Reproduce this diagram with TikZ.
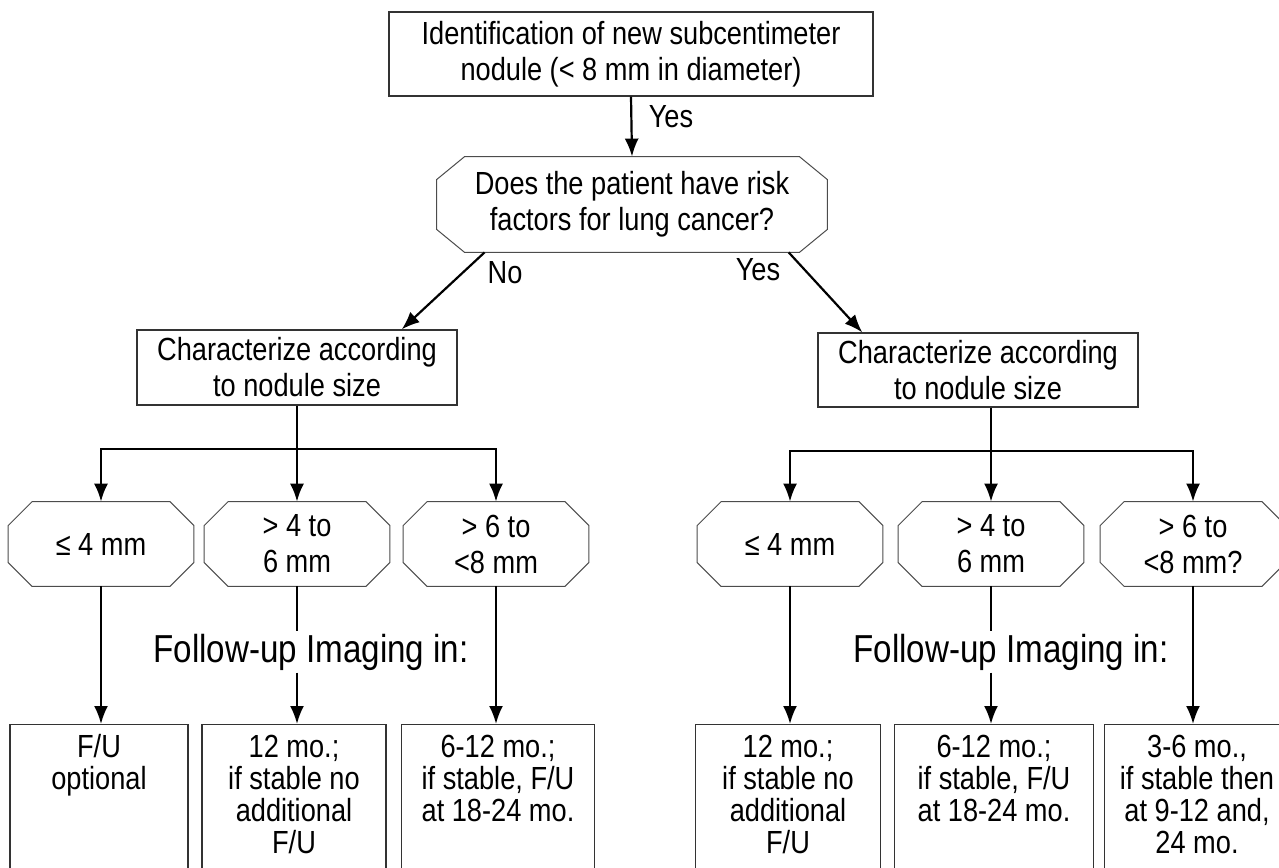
\documentclass[tikz,border=0pt]{standalone}
\usepackage{fontspec}
\setmainfont[FakeStretch=0.85]{Liberation Sans}
\usetikzlibrary{positioning}
\usetikzlibrary{calc,arrows.meta}

\begin{document}
\begin{tikzpicture}[x=0.5pt,y=-0.5pt,
  font=\fontsize{16}{18}\selectfont,
  qbox/.style={shape=rectangle,draw=black!80,line width=0.6pt,align=center,inner sep=0pt},
  qoct/.style={shape=rectangle,align=center,inner sep=0pt,minimum width=92.5pt,minimum height=42pt},
  octline/.style={draw=black!70,line width=0.5pt},
  fubox/.style={shape=rectangle,draw=black!80,line width=0.6pt,anchor=north,align=flush center,text width=#1,
    inner xsep=0pt,inner ysep=5pt,text height=11.5pt,text depth=150pt,font=\fontsize{16}{16}\selectfont},
  follow/.style={font=\fontsize{19.5}{22}\selectfont,inner sep=1pt},
  arr/.style={line width=1.1pt,-{Latex[length=9pt,width=7pt]}},
  lnk/.style={line width=1.1pt}]
\useasboundingbox (0,0) rectangle (1279,867);
\clip (0,0) rectangle (1279,867);

\path
(631,54) node [qbox,minimum width=242pt,minimum height=42pt] (ident) {Identification of new subcentimeter\\nodule (< 8 mm in diameter)}
(632,204.5) node [qoct,minimum width=195pt,minimum height=47.5pt] (risk) {Does the patient have risk\\factors for lung cancer?}
(297,367.5) node [qbox,minimum width=160pt,minimum height=37.5pt] (sizeL) {Characterize according\\to nodule size}
(978,370) node [qbox,minimum width=160pt,minimum height=37pt] (sizeR) {Characterize according\\to nodule size};
\node at (671,117) {Yes};
\node at (505,273) {No};
\node at (758,270) {Yes};

% size classes
\path
(101,544) node [qoct] (leA) {≤ 4 mm}
(297,544) node [qoct] (leB) {> 4 to\\6 mm}
(496,544) node [qoct] (leC) {> 6 to\\<8 mm}
(790,544) node [qoct] (leD) {≤ 4 mm}
(991,544) node [qoct] (leE) {> 4 to\\6 mm}
(1193,544) node [qoct] (leF) {> 6 to\\<8 mm?};
\path (297,449) coordinate (splitL)
      (991,451) coordinate (splitR);

% octagon outlines
\foreach \n/\cx/\cy in {risk/28/23,leA/24/24,leB/24/24,leC/24/24,leD/24/24,leE/24/24,leF/24/24}
  \draw [octline] ($(\n.north west)+(\cx,0)$) -- ($(\n.north east)+(-\cx,0)$)
    -- ($(\n.north east)+(0,\cy)$) -- ($(\n.south east)+(0,-\cy)$)
    -- ($(\n.south east)+(-\cx,0)$) -- ($(\n.south west)+(\cx,0)$)
    -- ($(\n.south west)+(0,-\cy)$) -- ($(\n.north west)+(0,\cy)$) -- cycle;

\path
(311,652) node [follow] (imgL) {Follow-up Imaging in:}
(1011,652) node [follow] (imgR) {Follow-up Imaging in:};

% follow-up boxes
\path
(99,724) node [fubox=89pt] (fuA) {F/U\\optional}
(294,724) node [fubox=92pt] (fuB) {12 mo.;\\if stable no\\additional\\F/U}
(498,724) node [fubox=96.5pt] (fuC) {6-12 mo.;\\if stable, F/U\\at 18-24 mo.}
(788,724) node [fubox=92.5pt] (fuD) {12 mo.;\\if stable no\\additional\\F/U}
(994,724) node [fubox=99.5pt] (fuE) {6-12 mo.;\\if stable, F/U\\at 18-24 mo.}
(1197,724) node [fubox=92.5pt] (fuF) {3-6 mo.,\\if stable then\\at 9-12 and,\\24 mo.};

\draw [arr] (ident.south) -- (risk.north);
\draw [arr] (risk.-162) -- (sizeL.20);
\draw [arr] (risk.-17) -- (sizeR.162);

\draw [arr] (sizeL.south -| leB.north) -- (leB.north);
\draw [arr] (splitL) -| (leA.north);
\draw [arr] (splitL) -| (leC.north);
\draw [arr] (sizeR.south -| leE.north) -- (leE.north);
\draw [arr] (splitR) -| (leD.north);
\draw [arr] (splitR) -| (leF.north);

\draw [arr] (leA.south) -- (leA.south |- fuA.north);
\draw [lnk] (leB.south) -- (leB.south |- imgL.north);
\draw [arr] (leB.south |- imgL.south) -- (leB.south |- fuB.north);
\draw [arr] (leC.south) -- (leC.south |- fuC.north);
\draw [arr] (leD.south) -- (leD.south |- fuD.north);
\draw [lnk] (leE.south) -- (leE.south |- imgR.north);
\draw [arr] (leE.south |- imgR.south) -- (leE.south |- fuE.north);
\draw [arr] (leF.south) -- (leF.south |- fuF.north);

\end{tikzpicture}
\end{document}
